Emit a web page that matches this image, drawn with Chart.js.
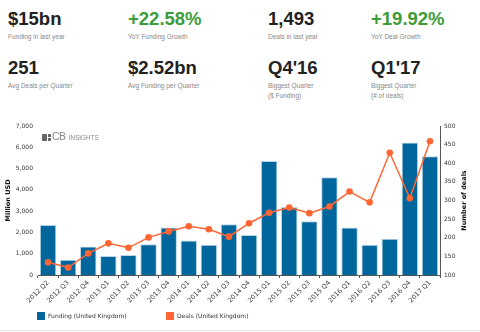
<!DOCTYPE html>
<html>
<head>
<meta charset="utf-8">
<script src="https://cdn.jsdelivr.net/npm/chart.js@4.4.1/dist/chart.umd.min.js"></script>
<style>
  html, body { margin: 0; padding: 0; background: #fff; }
  body { width: 480px; height: 332px; position: relative; overflow: hidden; font-family: "Liberation Sans", Arial, sans-serif; }
  .stat { position: absolute; }
  .stat .big { font-weight: bold; font-size: 18.5px; line-height: 18.5px; color: #222; }
  .stat .big.up { color: #3d9b38; }
  .stat .lbl { position: absolute; left: 0; top: 22px; font-size: 6.5px; line-height: 10px; color: #888; white-space: nowrap; }
  #chartBox { position: absolute; left: 0; top: 110px; width: 480px; height: 200px; }
  #logo { position: absolute; left: 42px; top: 129px; font-family: "Liberation Sans", Arial, sans-serif; color: #888; white-space: nowrap; line-height: 12px; }
  #logo .icon { display: inline-block; width: 9px; height: 7px; background: #666; border-radius: 1px; vertical-align: -0.5px; margin-right: 1px; position: relative; }
  #logo .icon:before { content: ""; position: absolute; left: 5px; top: 0; width: 1px; height: 7px; background: #fff; }
  #logo .icon:after { content: ""; position: absolute; left: 5px; top: 3px; width: 4px; height: 1px; background: #fff; }
  #logo .cb { font-size: 10.5px; letter-spacing: -0.6px; }
  #logo .ins { font-size: 6.3px; margin-left: -1px; }
  #legend { position: absolute; left: 37px; top: 312px; font-family: "DejaVu Sans", Verdana, sans-serif; font-size: 6px; color: #333; white-space: nowrap; }
  #legend .item { position: absolute; top: 0; }
  #legend .sw { display: inline-block; width: 8px; height: 8px; vertical-align: top; }
  #legend .tx { position: absolute; left: 11px; top: 0; line-height: 8px; }
  #rule { position: absolute; left: 0; top: 330px; width: 480px; height: 1px; background: #e6e6e6; }
</style>
</head>
<body>

<div class="stat" style="left:8px;top:10.3px"><div class="big">$15bn</div><div class="lbl">Funding in last year</div></div>
<div class="stat" style="left:128px;top:10.3px"><div class="big up">+22.58%</div><div class="lbl">YoY Funding Growth</div></div>
<div class="stat" style="left:268px;top:10.3px"><div class="big">1,493</div><div class="lbl">Deals in last year</div></div>
<div class="stat" style="left:371px;top:10.3px"><div class="big up">+19.92%</div><div class="lbl">YoY Deal Growth</div></div>

<div class="stat" style="left:8px;top:59.3px"><div class="big">251</div><div class="lbl">Avg Deals per Quarter</div></div>
<div class="stat" style="left:128px;top:59.3px"><div class="big">$2.52bn</div><div class="lbl">Avg Funding per Quarter</div></div>
<div class="stat" style="left:268px;top:59.3px"><div class="big">Q4'16</div><div class="lbl">Biggest Quarter<br>($ Funding)</div></div>
<div class="stat" style="left:371px;top:59.3px"><div class="big">Q1'17</div><div class="lbl">Biggest Quarter<br>(# of deals)</div></div>

<div id="chartBox"><canvas id="ukChart"></canvas></div>
<div id="logo"><span class="icon"></span><span class="cb">CB</span> <span class="ins">INSIGHTS</span></div>
<div id="legend"></div>
<div id="rule"></div>

<script>
/************** DATA **************/
const quarters = [
  "2012 Q2", "2012 Q3", "2012 Q4", "2013 Q1", "2013 Q2", "2013 Q3", "2013 Q4",
  "2014 Q1", "2014 Q2", "2014 Q3", "2014 Q4", "2015 Q1", "2015 Q2", "2015 Q3",
  "2015 Q4", "2016 Q1", "2016 Q2", "2016 Q3", "2016 Q4", "2017 Q1"
];

// million USD
const funding = [
  2350, 720, 1340, 890, 940, 1440, 2230,
  1625, 1420, 2390, 1875, 5360, 3190, 2530,
  4590, 2235, 1420, 1700, 6220, 5580
];

// number of deals
const deals = [
  134, 120, 158, 185, 173, 201, 217,
  231, 223, 203, 239, 267, 281, 266,
  284, 324, 295, 428, 306, 459
];

const fundingTicks = [0, 7000, 1000];
const dealTicks = [100, 500, 50];

const BLUE = "#00669b";
const ORANGE = "#ff6633";
const AXIS = "#555";
const TICK_FONT = { family: "'DejaVu Sans', Verdana, sans-serif", size: 6 };

/************** RIGHT AXIS TITLE **************/
// drawn bottom-to-top, same as the left title
const rightTitle = {
  id: "rightTitle",
  afterDraw(chart) {
    const s = chart.scales.y1;
    const ctx = chart.ctx;
    ctx.save();
    ctx.translate(464, (s.top + s.bottom) / 2);
    ctx.rotate(-Math.PI / 2);
    ctx.font = "bold 6.5px 'DejaVu Sans', Verdana, sans-serif";
    ctx.fillStyle = "#111";
    ctx.textAlign = "center";
    ctx.textBaseline = "middle";
    ctx.fillText("Number of deals", 0, 0);
    ctx.restore();
  }
};

/************** CHART **************/
const ctx = document.getElementById("ukChart").getContext("2d");

const chart = new Chart(ctx, {
  data: {
    labels: quarters,
    datasets: [{
      type: "line",
      label: "Deals (United Kingdom)",
      data: deals,
      yAxisID: "y1",
      borderColor: ORANGE,
      backgroundColor: ORANGE,
      borderWidth: 1.5,
      pointRadius: 3.3,
      pointBorderWidth: 0,
      pointBackgroundColor: ORANGE,
      tension: 0,
      order: 0
    }, {
      type: "bar",
      label: "Funding (United Kingdom)",
      data: funding,
      yAxisID: "y",
      backgroundColor: BLUE,
      borderColor: "#b9d6e6",
      borderWidth: 1,
      categoryPercentage: 1,
      barPercentage: 0.82,
      order: 1
    }]
  },
  options: {
    responsive: true,
    maintainAspectRatio: false,
    animation: false,
    layout: { padding: { top: 16, left: 0, right: 0, bottom: 0 } },
    plugins: {
      legend: { display: false },
      tooltip: { enabled: false }
    },
    scales: {
      x: {
        offset: true,
        border: { color: AXIS, width: 1 },
        grid: { display: true, drawOnChartArea: false, tickLength: 3, color: AXIS },
        ticks: {
          font: { family: TICK_FONT.family, size: 6.6 }, color: "#444", autoSkip: false,
          minRotation: 45, maxRotation: 45, padding: 1
        },
        afterFit: s => { s.height = 35; }
      },
      y: {
        position: "left",
        min: fundingTicks[0], max: fundingTicks[1],
        border: { display: false },
        grid: { display: false, drawTicks: false },
        ticks: {
          stepSize: fundingTicks[2], font: TICK_FONT, color: "#333", padding: 5,
          callback: v => v.toLocaleString("en-US")
        },
        title: {
          display: true, text: "Million USD", color: "#111",
          font: { family: "'DejaVu Sans', Verdana, sans-serif", size: 6.5, weight: "bold" },
          padding: { top: 4, bottom: 0 }
        },
        afterFit: s => { s.width = 38; }
      },
      y1: {
        position: "right",
        min: dealTicks[0], max: dealTicks[1],
        border: { display: true, color: AXIS, width: 1 },
        grid: { display: false, drawTicks: false },
        ticks: { stepSize: dealTicks[2], font: TICK_FONT, color: "#333", padding: 4 },
        afterFit: s => { s.width = 40; }
      }
    }
  },
  plugins: [rightTitle]
});

/************** LEGEND **************/
// bars first, then the line, as in the chart key
const legendEl = document.getElementById("legend");
const legendX = [0, 129];
[1, 0].forEach((i, n) => {
  const ds = chart.data.datasets[i];
  const item = document.createElement("div");
  item.className = "item";
  item.style.left = legendX[n] + "px";
  item.innerHTML = `<span class="sw" style="background:${ds.backgroundColor}"></span><span class="tx">${ds.label}</span>`;
  legendEl.appendChild(item);
});
</script>
</body>
</html>
